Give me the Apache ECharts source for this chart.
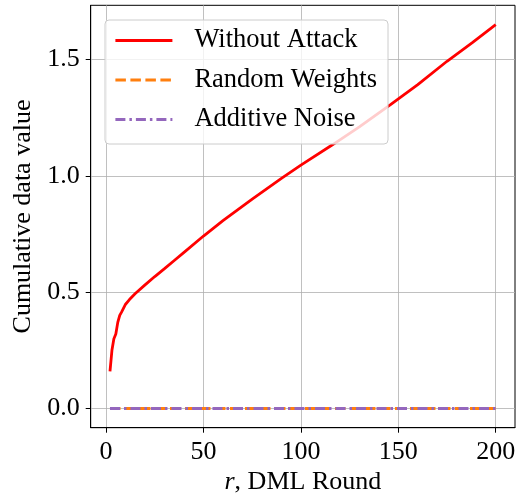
<!DOCTYPE html>
<html>
<head>
<meta charset="utf-8">
<script src="https://cdn.jsdelivr.net/npm/echarts@6/dist/echarts.min.js"></script>
<style>
  html, body { margin: 0; padding: 0; background: #fff; }
  #chart { width: 518px; height: 494px; }
</style>
</head>
<body>
<div id="chart"></div>
<script>
// values
const rounds = [2, 3, 4, 5, 6, 7, 8, 10, 12, 15, 20, 25, 30, 35, 40, 50, 60, 75, 90, 100, 116, 130, 146, 160, 175, 188, 200]
const withoutAttack = [0.16, 0.25, 0.30, 0.32, 0.37, 0.40, 0.415, 0.448, 0.468, 0.494, 0.531, 0.567, 0.601, 0.636, 0.671, 0.741, 0.807, 0.9, 0.989, 1.046, 1.132, 1.21, 1.306, 1.392, 1.492, 1.572, 1.649]
const randomWeights = [0, 0, 0, 0, 0, 0, 0, 0, 0, 0, 0, 0, 0, 0, 0, 0, 0, 0, 0, 0, 0, 0, 0, 0, 0, 0, 0]
const additiveNoise = [0, 0, 0, 0, 0, 0, 0, 0, 0, 0, 0, 0, 0, 0, 0, 0, 0, 0, 0, 0, 0, 0, 0, 0, 0, 0, 0]
const xTicks = [0, 50, 100, 150, 200]
const yTicks = [0, 0.5, 1.0, 1.5]

const font = 'Liberation Serif'

function pairs(ys) {
    return rounds.map((r, i) => [r, ys[i]])
}

let chart = echarts.init(document.getElementById('chart'))
let option = {
    animation: false,
    textStyle: { fontFamily: font, color: '#000' },
    grid: {
        left: 90.7,
        right: 3,
        top: 5.3,
        bottom: 66.3,
        outerBoundsMode: 'none',
        containLabel: false,
        show: true,
        borderColor: '#000',
        borderWidth: 1
    },
    legend: {
        left: 105,
        top: 20,
        orient: 'vertical',
        itemWidth: 57,
        itemHeight: 26,
        itemGap: 12.5,
        padding: [7, 11, 11, 9],
        backgroundColor: 'rgba(255,255,255,0.8)',
        borderColor: '#cccccc',
        borderWidth: 1,
        borderRadius: 4,
        itemStyle: { opacity: 0 },
        lineStyle: { width: 2.8 },
        textStyle: {
            fontFamily: font,
            fontSize: 26.5,
            color: '#000',
            padding: [0, 0, 0, 17]
        },
        data: ['Without Attack', 'Random Weights', 'Additive Noise']
    },
    xAxis: {
        type: 'value',
        min: -7.9,
        max: 209.9,
        name: '{i|r}, DML Round',
        nameLocation: 'middle',
        nameGap: 29,
        nameTextStyle: {
            fontFamily: font,
            fontSize: 26,
            color: '#000',
            rich: { i: { fontFamily: font, fontSize: 26, fontStyle: 'italic', color: '#000' } }
        },
        axisLine: { show: true, onZero: false, lineStyle: { color: '#000', width: 1 } },
        axisTick: { show: true, customValues: xTicks, length: 5, lineStyle: { color: '#000' } },
        axisLabel: {
            customValues: xTicks,
            margin: 11,
            fontFamily: font,
            fontSize: 26,
            color: '#000',
            formatter: v => String(v)
        },
        splitLine: { show: true, lineStyle: { color: '#b0b0b0', width: 0.8 } }
    },
    yAxis: {
        type: 'value',
        min: -0.0825,
        max: 1.7325,
        name: 'Cumulative data value',
        nameLocation: 'middle',
        nameGap: 49,
        nameTextStyle: { fontFamily: font, fontSize: 26, color: '#000' },
        axisLine: { show: true, onZero: false, lineStyle: { color: '#000', width: 1 } },
        axisTick: { show: true, customValues: yTicks, length: 5, lineStyle: { color: '#000' } },
        axisLabel: {
            customValues: yTicks,
            margin: 11,
            fontFamily: font,
            fontSize: 26,
            color: '#000',
            formatter: v => v.toFixed(1)
        },
        splitLine: { show: true, lineStyle: { color: '#b0b0b0', width: 0.8 } }
    },
    series: [{
        name: 'Without Attack',
        type: 'line',
        symbol: 'none',
        color: '#ff0000',
        lineStyle: { color: '#ff0000', width: 2.8 },
        data: pairs(withoutAttack),
        z: 3
    }, {
        name: 'Random Weights',
        type: 'line',
        symbol: 'none',
        color: '#ff7f0e',
        lineStyle: { color: '#ff7f0e', width: 2.8, type: [10.5, 4.5] },
        data: pairs(randomWeights),
        z: 4
    }, {
        name: 'Additive Noise',
        type: 'line',
        symbol: 'none',
        color: '#9467bd',
        lineStyle: { color: '#9467bd', width: 2.8, type: [10, 4, 2.5, 4] },
        data: pairs(additiveNoise),
        z: 5
    }]
}
chart.setOption(option)
</script>
</body>
</html>
